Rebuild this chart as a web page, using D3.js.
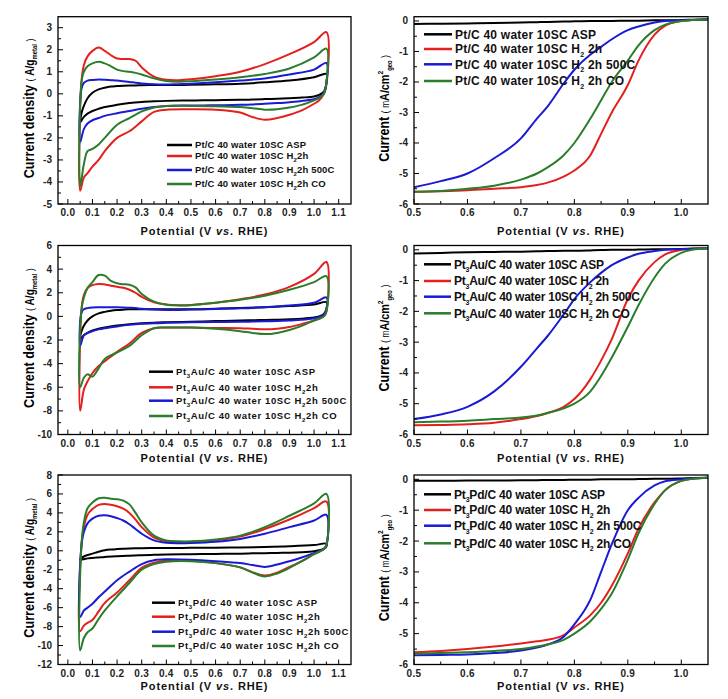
<!DOCTYPE html>
<html><head><meta charset="utf-8">
<script src="https://cdn.jsdelivr.net/npm/d3@7"></script>
<style>body{margin:0;background:#fff}svg{display:block}text{font-family:"Liberation Sans",Arial,sans-serif}</style>
</head><body>
<script>
// ---------------- DATA ----------------
// CV potential grids (V vs RHE)
const cvAnodicV   = [0.05,0.055,0.065,0.08,0.1,0.125,0.15,0.175,0.2,0.225,0.25,0.275,0.3,0.35,0.4,0.45,0.5,0.6,0.7,0.8,0.9,1.0,1.05];
const cvCathodicV = [1.05,1.04,1.02,1.0,0.95,0.9,0.85,0.8,0.75,0.7,0.6,0.5,0.4,0.35,0.3,0.25,0.2,0.15,0.125,0.1,0.08,0.065,0.05];

// Pt/C CV (A/g metal)
const ptcAspUp    = [-1.3,-0.9,-0.55,-0.2,0.05,0.2,0.28,0.33,0.35,0.37,0.38,0.38,0.39,0.4,0.4,0.4,0.41,0.43,0.46,0.52,0.6,0.75,0.9];
const ptcAspDown  = [0.5,0.1,-0.05,-0.12,-0.17,-0.2,-0.22,-0.24,-0.26,-0.27,-0.29,-0.3,-0.32,-0.34,-0.37,-0.42,-0.5,-0.6,-0.68,-0.78,-0.9,-1.05,-1.3];
const ptcH2Up     = [-4.4,0.5,1.3,1.7,1.95,2.1,1.95,1.75,1.6,1.58,1.58,1.5,1.2,0.78,0.64,0.62,0.66,0.8,1.0,1.35,1.8,2.35,2.8];
const ptcH2Down   = [0.4,0.0,-0.3,-0.45,-0.75,-0.95,-1.1,-1.18,-1.05,-0.85,-0.72,-0.7,-0.72,-0.82,-1.25,-1.7,-2.0,-2.6,-3.0,-3.3,-3.6,-3.8,-4.4];
const ptcH5Up     = [-2.2,0.2,0.5,0.6,0.63,0.65,0.64,0.62,0.6,0.57,0.54,0.5,0.47,0.43,0.42,0.44,0.46,0.52,0.6,0.7,0.88,1.1,1.4];
const ptcH5Down   = [0.5,0.05,-0.15,-0.25,-0.32,-0.38,-0.42,-0.45,-0.48,-0.5,-0.52,-0.53,-0.55,-0.6,-0.68,-0.78,-0.88,-1.0,-1.1,-1.2,-1.35,-1.6,-2.2];
const ptcCoUp     = [-4.2,0.5,1.0,1.25,1.38,1.45,1.38,1.25,1.1,1.03,1.0,0.95,0.88,0.7,0.58,0.55,0.57,0.65,0.75,0.9,1.15,1.65,2.05];
const ptcCoDown   = [0.5,0.0,-0.2,-0.3,-0.5,-0.62,-0.7,-0.72,-0.65,-0.6,-0.56,-0.55,-0.55,-0.62,-0.8,-1.1,-1.4,-2.0,-2.3,-2.5,-2.6,-3.2,-4.2];

// Pt3Au/C CV
const ptauAspUp   = [-1.9,-1.3,-0.8,-0.35,0.0,0.25,0.38,0.47,0.53,0.57,0.6,0.6,0.6,0.6,0.6,0.6,0.6,0.65,0.7,0.78,0.88,1.0,1.2];
const ptauAspDown = [0.6,0.2,0.0,-0.1,-0.2,-0.25,-0.28,-0.3,-0.33,-0.35,-0.4,-0.45,-0.5,-0.53,-0.58,-0.66,-0.78,-0.95,-1.05,-1.2,-1.4,-1.6,-1.9];
const ptauH2Up    = [-8.0,0.5,1.8,2.4,2.65,2.75,2.7,2.6,2.5,2.42,2.25,2.0,1.65,1.2,1.0,0.95,0.97,1.15,1.45,1.85,2.5,3.6,4.6];
const ptauH2Down  = [0.4,0.0,-0.2,-0.35,-0.65,-0.9,-1.05,-1.1,-1.05,-1.0,-0.98,-0.95,-0.95,-1.0,-1.4,-2.3,-3.0,-3.8,-4.2,-4.8,-5.5,-6.2,-8.0];
const ptauH5Up    = [-2.5,0.3,0.6,0.7,0.75,0.77,0.78,0.78,0.78,0.76,0.73,0.7,0.65,0.58,0.55,0.55,0.58,0.62,0.68,0.78,0.92,1.15,1.6];
const ptauH5Down  = [0.6,0.15,-0.05,-0.15,-0.28,-0.35,-0.4,-0.42,-0.44,-0.46,-0.48,-0.5,-0.55,-0.58,-0.63,-0.72,-0.85,-1.0,-1.1,-1.25,-1.4,-1.6,-2.5];
const ptauCoUp    = [-6.0,0.5,1.6,2.4,2.9,3.5,3.45,3.0,2.8,2.72,2.68,2.45,1.9,1.25,0.98,0.93,0.95,1.15,1.4,1.75,2.25,2.9,3.4];
const ptauCoDown  = [0.4,0.0,-0.2,-0.35,-0.8,-1.15,-1.4,-1.5,-1.4,-1.25,-1.05,-0.95,-0.95,-1.0,-1.6,-2.5,-3.05,-3.6,-4.4,-5.1,-4.9,-5.2,-6.0];

// Pt3Pd/C CV
const ptpdAspUp   = [-0.9,-0.75,-0.6,-0.45,-0.3,-0.1,0.05,0.13,0.18,0.22,0.25,0.27,0.28,0.3,0.3,0.3,0.31,0.33,0.36,0.4,0.47,0.6,0.75];
const ptpdAspDown = [0.45,0.2,0.05,-0.05,-0.15,-0.2,-0.22,-0.25,-0.27,-0.3,-0.33,-0.36,-0.4,-0.43,-0.47,-0.52,-0.58,-0.65,-0.7,-0.75,-0.8,-0.88,-0.95];
const ptpdH2Up    = [-8.5,0.5,2.5,3.8,4.4,4.85,4.95,4.85,4.7,4.45,4.0,3.3,2.5,1.4,1.0,0.9,0.92,1.1,1.5,2.3,3.3,4.5,5.2];
const ptpdH2Down  = [0.6,0.2,-0.1,-0.35,-1.1,-1.7,-2.3,-2.6,-2.25,-1.75,-1.3,-1.05,-1.05,-1.25,-1.8,-3.1,-4.4,-5.5,-6.4,-7.3,-7.6,-7.9,-8.5];
const ptpdH5Up    = [-7.0,0.5,2.0,2.9,3.4,3.7,3.75,3.65,3.45,3.2,2.8,2.3,1.8,1.1,0.85,0.8,0.82,0.95,1.25,1.8,2.5,3.2,3.8];
const ptpdH5Down  = [0.6,0.2,-0.05,-0.25,-0.7,-1.1,-1.45,-1.7,-1.5,-1.3,-1.1,-0.95,-0.9,-1.0,-1.4,-2.2,-3.1,-4.3,-4.9,-5.6,-6.0,-6.3,-7.0];
const ptpdCoUp    = [-10.5,0.5,3.0,4.5,5.1,5.55,5.6,5.5,5.45,5.3,4.9,4.0,3.0,1.6,1.1,1.0,1.0,1.2,1.6,2.5,3.7,5.0,6.0];
const ptpdCoDown  = [0.6,0.2,-0.1,-0.35,-1.1,-1.8,-2.4,-2.7,-2.3,-1.75,-1.3,-1.1,-1.15,-1.4,-2.0,-3.4,-4.8,-6.3,-7.2,-8.2,-8.6,-9.2,-10.5];

// LSV potential grid and currents (mA/cm2 geo)
const lsvV = [0.5,0.55,0.6,0.65,0.7,0.73,0.75,0.78,0.8,0.83,0.85,0.87,0.9,0.92,0.95,0.97,1.0,1.02,1.05];
const ptcLsvAsp  = [-0.1,-0.09,-0.08,-0.07,-0.05,-0.04,-0.03,-0.02,-0.01,0,0,0,0.01,0.01,0.02,0.02,0.03,0.04,0.05];
const ptcLsvH2   = [-5.6,-5.58,-5.55,-5.5,-5.45,-5.38,-5.3,-5.1,-4.9,-4.4,-3.7,-3.0,-2.1,-1.3,-0.45,-0.15,0.0,0.03,0.05];
const ptcLsvH5   = [-5.45,-5.25,-5.0,-4.5,-3.85,-3.2,-2.8,-2.05,-1.6,-1.1,-0.85,-0.6,-0.3,-0.18,-0.05,0.0,0.02,0.03,0.05];
const ptcLsvCo   = [-5.6,-5.57,-5.5,-5.4,-5.2,-5.0,-4.8,-4.4,-4.0,-3.2,-2.6,-2.0,-1.3,-0.8,-0.3,-0.12,0.0,0.03,0.05];
const ptauLsvAsp = [-0.12,-0.1,-0.08,-0.07,-0.06,-0.05,-0.04,-0.03,-0.03,-0.02,-0.01,0,0,0.01,0.02,0.02,0.03,0.04,0.05];
const ptauLsvH2  = [-5.7,-5.69,-5.67,-5.62,-5.5,-5.4,-5.3,-5.1,-4.85,-4.2,-3.6,-2.9,-1.6,-1.0,-0.4,-0.15,0.0,0.03,0.05];
const ptauLsvH5  = [-5.5,-5.35,-5.1,-4.6,-3.8,-3.2,-2.8,-2.1,-1.6,-1.05,-0.75,-0.5,-0.25,-0.13,-0.04,0.0,0.02,0.03,0.05];
const ptauLsvCo  = [-5.6,-5.58,-5.55,-5.5,-5.45,-5.38,-5.3,-5.15,-5.0,-4.6,-4.1,-3.5,-2.5,-1.8,-0.9,-0.45,-0.1,0.0,0.05];
const ptpdLsvAsp = [-0.05,-0.05,-0.04,-0.04,-0.03,-0.03,-0.02,-0.02,-0.01,-0.01,0,0,0,0.01,0.02,0.02,0.03,0.04,0.05];
const ptpdLsvH2  = [-5.6,-5.56,-5.5,-5.42,-5.32,-5.25,-5.2,-5.05,-4.8,-4.4,-4.0,-3.45,-2.4,-1.6,-0.75,-0.35,-0.05,0.02,0.05];
const ptpdLsvH5  = [-5.7,-5.69,-5.68,-5.63,-5.55,-5.45,-5.35,-5.1,-4.7,-3.9,-3.0,-2.1,-1.0,-0.6,-0.2,-0.06,0.0,0.03,0.05];
const ptpdLsvCo  = [-5.65,-5.63,-5.6,-5.56,-5.5,-5.42,-5.35,-5.2,-5.0,-4.6,-4.2,-3.7,-2.6,-1.75,-0.8,-0.35,-0.05,0.02,0.05];

// Tick values
const cvXTicks  = [0.0,0.1,0.2,0.3,0.4,0.5,0.6,0.7,0.8,0.9,1.0,1.1];
const cvYTicks1 = [-5,-4,-3,-2,-1,0,1,2,3];
const cvYTicks2 = [-10,-8,-6,-4,-2,0,2,4,6];
const cvYTicks3 = [-12,-10,-8,-6,-4,-2,0,2,4,6,8];
const lsvXTicks = [0.5,0.6,0.7,0.8,0.9,1.0];
const lsvYTicks = [-6,-5,-4,-3,-2,-1,0];

// Labels
const catalysts = [ [["Pt/C"]], [["Pt"],["3","sub"],["Au/C"]], [["Pt"],["3","sub"],["Pd/C"]] ];
const cvTreatments  = [ [[" 40 water 10SC ASP"]], [[" 40 water 10SC H"],["2","sub"],["2h"]], [[" 40 water 10SC H"],["2","sub"],["2h 500C"]], [[" 40 water 10SC H"],["2","sub"],["2h CO"]] ];
const lsvTreatments = [ [[" 40 water 10SC ASP"]], [[" 40 water 10SC H"],["2","sub"],[" 2h"]], [[" 40 water 10SC H"],["2","sub"],[" 2h 500C"]], [[" 40 water 10SC H"],["2","sub"],[" 2h CO"]] ];
const seriesColors = ["#000000","#e3201e","#1a1ad4","#2a7d2a"];

// ---------------- LAYOUT ----------------
const W = 728, H = 699;
const rows = [{top:16.7,bottom:204,xTitle:235},{top:245.5,bottom:434.5,xTitle:462},{top:475,bottom:664.5,xTitle:690}];
const cvDomains = [[-5,3.5],[-10,6],[-12,8]];
const cvYTickSets = [cvYTicks1,cvYTicks2,cvYTicks3];
const cvSets = [
  [[ptcAspUp,ptcAspDown],[ptcH2Up,ptcH2Down],[ptcH5Up,ptcH5Down],[ptcCoUp,ptcCoDown]],
  [[ptauAspUp,ptauAspDown],[ptauH2Up,ptauH2Down],[ptauH5Up,ptauH5Down],[ptauCoUp,ptauCoDown]],
  [[ptpdAspUp,ptpdAspDown],[ptpdH2Up,ptpdH2Down],[ptpdH5Up,ptpdH5Down],[ptpdCoUp,ptpdCoDown]]
];
const lsvSets = [
  [ptcLsvAsp,ptcLsvH2,ptcLsvH5,ptcLsvCo],
  [ptauLsvAsp,ptauLsvH2,ptauLsvH5,ptauLsvCo],
  [ptpdLsvAsp,ptpdLsvH2,ptpdLsvH5,ptpdLsvCo]
];
const cvLegend = [
  {x0:167,x1:192,ys:[145,156,170,184],target:111},
  {x0:149,x1:173,ys:[371.7,387.3,400.7,416],target:139},
  {x0:152,x1:175,ys:[602.7,616.7,631.7,646],target:139}
];
const lsvLegend = [
  {x0:424,x1:452,ys:[34.3,49,64.3,81],target:141},
  {x0:424,x1:451,ys:[264.3,281,296.7,313.3],target:150},
  {x0:424,x1:451,ys:[494.3,510,525.7,543.3],target:151}
];

const svg = d3.select("body").append("svg").attr("width",W).attr("height",H);

function addParts(textSel, parts, baseSize, subSize, subShift){
  let shift = 0;
  parts.forEach(p=>{
    const ts = textSel.append("tspan").text(p[0]);
    let target = 0;
    if (p[1]==="sub"){ ts.attr("font-size",subSize); target = subShift; }
    const d = target - shift;
    if (d!==0) ts.attr("dy",d);
    shift = target;
  });
}
function richParts(textSel, parts){
  let shift = 0;
  parts.forEach(p=>{
    const ts = textSel.append("tspan").text(p.t).attr("font-size",p.size).attr("font-weight",p.weight);
    if (p.style) ts.attr("font-style",p.style);
    const target = p.shift||0;
    if (target!==shift) ts.attr("dy",target-shift);
    shift = target;
  });
}

function midpoints(arr){ const m=[]; for(let i=0;i<arr.length-1;i++) m.push((arr[i]+arr[i+1])/2); return m; }

function drawFrame(g, x, y, xTicks, yTicks, xFmt, top, bottom){
  const [x0,x1] = x.range();
  // ticks inward
  const tk = g.append("g").attr("stroke","#000").attr("stroke-width",1);
  xTicks.forEach(v=>tk.append("line").attr("x1",x(v)).attr("x2",x(v)).attr("y1",bottom).attr("y2",bottom-5));
  midpoints(xTicks).forEach(v=>tk.append("line").attr("x1",x(v)).attr("x2",x(v)).attr("y1",bottom).attr("y2",bottom-3));
  yTicks.forEach(v=>tk.append("line").attr("x1",x0).attr("x2",x0+5).attr("y1",y(v)).attr("y2",y(v)));
  midpoints(yTicks).forEach(v=>tk.append("line").attr("x1",x0).attr("x2",x0+3).attr("y1",y(v)).attr("y2",y(v)));
  g.append("rect").attr("x",x0).attr("y",top).attr("width",x1-x0).attr("height",bottom-top)
    .attr("fill","none").attr("stroke","#000").attr("stroke-width",1.3);
  const lab = g.append("g").attr("font-size",10).attr("font-weight","bold").attr("fill","#222");
  xTicks.forEach(v=>lab.append("text").attr("x",x(v)).attr("y",bottom+12).attr("text-anchor","middle").attr("letter-spacing",0.3).text(xFmt(v)));
  yTicks.forEach(v=>lab.append("text").attr("x",x0-6).attr("y",y(v)).attr("dy","0.35em").attr("text-anchor","end").text(String(v)));
}

function xTitle(g, cx, baseline){
  const t = g.append("text").attr("x",cx).attr("y",baseline).attr("text-anchor","middle")
    .attr("font-size",11).attr("font-weight","bold").attr("fill","#111");
  t.append("tspan").text("Potential (V ");
  t.append("tspan").attr("font-style","italic").text("vs");
  t.append("tspan").text(". RHE)");
  const n = t.text().length;
  const len = t.node().getComputedTextLength();
  t.attr("letter-spacing", Math.max(0,(127-len)/(n-1)));
}

function yTitle(g, cx, cy, parts, target){
  const t = g.append("text").attr("text-anchor","middle").attr("fill","#000");
  richParts(t, parts);
  const len = t.node().getComputedTextLength();
  const s = target/len;
  t.attr("transform",`translate(${cx},${cy}) rotate(-90) scale(${s},1)`);
}

function legend(g, cfg, catParts, treatments, fs, subSize, subShift){
  const texts = [];
  treatments.forEach((tr,i)=>{
    const y = cfg.ys[i];
    g.append("line").attr("x1",cfg.x0).attr("x2",cfg.x1).attr("y1",y).attr("y2",y)
      .attr("stroke",seriesColors[i]).attr("stroke-width",2.5);
    const t = g.append("text").attr("x",cfg.x1+3).attr("y",y+fs*0.36)
      .attr("font-size",fs).attr("font-weight","bold").attr("fill","#111");
    addParts(t, catParts.concat(tr), fs, subSize, subShift);
    texts.push(t);
  });
  const t0 = texts[0];
  const n = t0.text().length;
  const ls = (cfg.target - t0.node().getComputedTextLength())/(n-1);
  texts.forEach(t=>t.attr("letter-spacing",ls));
}

const xCV  = d3.scaleLinear().domain([-0.04,1.15]).range([58,351]);
const xLSV = d3.scaleLinear().domain([0.5,1.05]).range([414,708]);
const fmt1 = d3.format(".1f");

const cvTitleParts = [
  {t:"Current density ",size:15,weight:"bold"},
  {t:"( ",size:11,weight:"normal"},
  {t:"A/g",size:12,weight:"bold"},
  {t:"metal",size:7,weight:"bold",shift:3},
  {t:" )",size:11,weight:"normal"}
];
const lsvTitleParts = [
  {t:"Current ",size:15,weight:"bold"},
  {t:"( ",size:11,weight:"normal"},
  {t:"m",size:10,weight:"normal"},
  {t:"A/cm",size:13,weight:"bold"},
  {t:"2",size:8,weight:"bold",shift:-6},
  {t:"geo",size:7,weight:"bold",shift:3},
  {t:" )",size:11,weight:"normal"}
];

rows.forEach((r,ri)=>{
  // ---------- CV panel ----------
  const gC = svg.append("g");
  const yC = d3.scaleLinear().domain(cvDomains[ri]).range([r.bottom,r.top]);
  const clipC = "clipC"+ri;
  gC.append("clipPath").attr("id",clipC).append("rect")
    .attr("x",xCV.range()[0]).attr("y",r.top).attr("width",xCV.range()[1]-xCV.range()[0]).attr("height",r.bottom-r.top);
  const loopLine = d3.line().x(d=>xCV(d[0])).y(d=>yC(d[1])).curve(d3.curveCatmullRomClosed.alpha(0.5));
  const plotC = gC.append("g").attr("clip-path",`url(#${clipC})`);
  cvSets[ri].forEach((s,si)=>{
    const up = s[0].map((v,i)=>[cvAnodicV[i],v]);
    const down = s[1].map((v,i)=>[cvCathodicV[i],v]).slice(0,-1);
    plotC.append("path").attr("d",loopLine(up.concat(down))).attr("fill","none")
      .attr("stroke",seriesColors[si]).attr("stroke-width",2).attr("stroke-linejoin","round");
  });
  drawFrame(gC, xCV, yC, cvXTicks, cvYTickSets[ri], fmt1, r.top, r.bottom);
  xTitle(gC, 204.5, r.xTitle);
  yTitle(gC, 34, (r.top+r.bottom)/2-2, cvTitleParts, 140);
  legend(gC, cvLegend[ri], catalysts[ri], cvTreatments, 9.5, 6, 3);

  // ---------- LSV panel ----------
  const gL = svg.append("g");
  const yL = d3.scaleLinear().domain([-6,0.14]).range([r.bottom,r.top]);
  const clipL = "clipL"+ri;
  gL.append("clipPath").attr("id",clipL).append("rect")
    .attr("x",xLSV.range()[0]).attr("y",r.top).attr("width",xLSV.range()[1]-xLSV.range()[0]).attr("height",r.bottom-r.top);
  const lsvLine = d3.line().x(d=>xLSV(d[0])).y(d=>yL(d[1])).curve(d3.curveMonotoneX);
  const plotL = gL.append("g").attr("clip-path",`url(#${clipL})`);
  lsvSets[ri].forEach((s,si)=>{
    plotL.append("path").attr("d",lsvLine(s.map((v,i)=>[lsvV[i],v]))).attr("fill","none")
      .attr("stroke",seriesColors[si]).attr("stroke-width",2);
  });
  drawFrame(gL, xLSV, yL, lsvXTicks, lsvYTicks, fmt1, r.top, r.bottom);
  xTitle(gL, 561, r.xTitle);
  yTitle(gL, 389, (r.top+r.bottom)/2-2, lsvTitleParts, 107);
  legend(gL, lsvLegend[ri], catalysts[ri], lsvTreatments, 12, 7, 3.5);
});
</script>
</body></html>
